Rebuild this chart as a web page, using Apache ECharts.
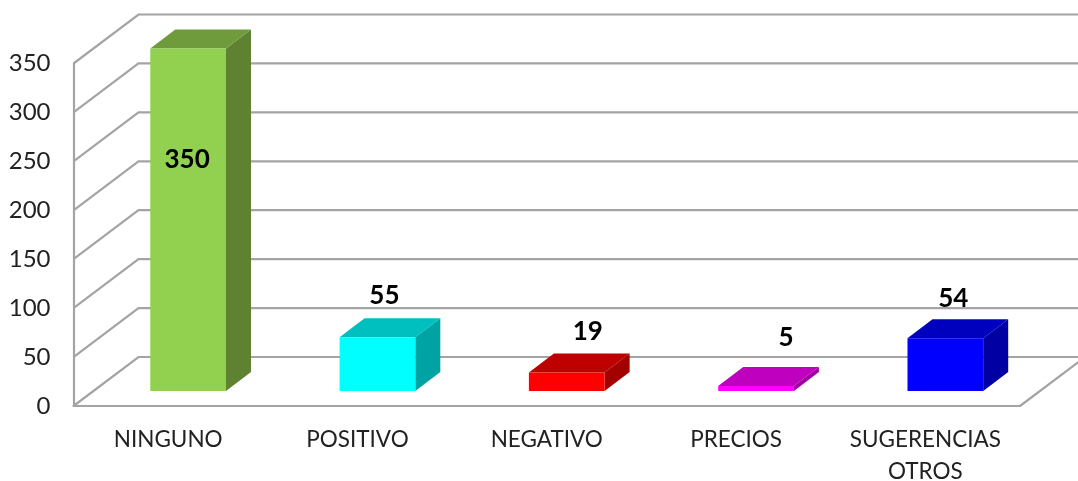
<!DOCTYPE html>
<html>
<head>
<meta charset="utf-8">
<style>html,body{margin:0;padding:0;background:#fff}#c{width:1078px;height:481px}</style>
<script src="https://cdn.jsdelivr.net/npm/echarts@6/dist/echarts.min.js"></script>
</head>
<body>
<div id="c"></div>
<script>
var categories = ['NINGUNO', 'POSITIVO', 'NEGATIVO', 'PRECIOS', 'SUGERENCIAS\nOTROS'];
var values = [350, 55, 19, 5, 54];
var yTicks = [0, 50, 100, 150, 200, 250, 300, 350];

var frontColors = ['#92D050', '#00FFFF', '#FF0000', '#FF00FF', '#0000FF'];
var topColors = ['#6F9B3C', '#00BFBF', '#BF0000', '#BF00BF', '#0000BF'];
var sideColors = ['#5E8231', '#00A3A3', '#A30000', '#A300A3', '#0000A3'];
var labelNudge = [[-1, 130], [7, -23], [21, -22], [30, -29], [8, -21]];

var WALL = [65, -49];
var BAR_PLANE = [20, -15];
var BAR_DEPTH = [25, -19];
var LINE = '#A4A4A4';

function renderFrame(params, api) {
  var cs = params.coordSys;
  var y = api.coord([0, api.value(0)])[1];
  var x0 = cs.x, x1 = cs.x + cs.width;
  var kids = [{
    type: 'polyline',
    shape: { points: [[x0, y], [x0 + WALL[0], y + WALL[1]], [x1 + WALL[0], y + WALL[1]]] },
    style: { fill: null, stroke: LINE, lineWidth: 2.2 }
  }];
  if (api.value(0) === 0) {
    kids.push({
      type: 'line',
      shape: { x1: x1, y1: y, x2: x1 + WALL[0], y2: y + WALL[1] },
      style: { stroke: LINE, lineWidth: 2.2 }
    });
  }
  return { type: 'group', children: kids };
}

function renderBar(params, api) {
  var i = api.value(0), v = api.value(1);
  var half = api.size([1, 0])[0] * 0.2;
  var base = api.coord([i, 0]);
  var top = api.coord([i, v]);
  var l = base[0] - half + BAR_PLANE[0], r = base[0] + half + BAR_PLANE[0];
  var b = base[1] + BAR_PLANE[1], t = top[1] + BAR_PLANE[1];
  var dx = BAR_DEPTH[0], dy = BAR_DEPTH[1];
  var nudge = labelNudge[i];
  return {
    type: 'group',
    children: [
      { type: 'polygon', shape: { points: [[r, t], [r + dx, t + dy], [r + dx, b + dy], [r, b]] }, style: { fill: sideColors[i] } },
      { type: 'polygon', shape: { points: [[l, t], [l + dx, t + dy], [r + dx, t + dy], [r, t]] }, style: { fill: topColors[i] } },
      { type: 'rect', shape: { x: l, y: t, width: r - l, height: b - t }, style: { fill: frontColors[i] } },
      { type: 'text', z2: 10, style: {
          text: String(v), x: base[0] + BAR_PLANE[0] + nudge[0], y: t + dy + nudge[1],
          align: 'center', verticalAlign: 'middle',
          font: 'bold 26px Lato', fill: '#000'
      } }
    ]
  };
}

var chart = echarts.init(document.getElementById('c'), null, { renderer: 'canvas' });
chart.setOption({
  animation: false,
  backgroundColor: '#fff',
  grid: { left: 73.5, right: 58, top: 63.5, bottom: 75, containLabel: false, outerBoundsMode: 'none' },
  xAxis: {
    type: 'category',
    data: categories,
    axisTick: { show: false },
    axisLine: { lineStyle: { color: LINE, width: 2.2 } },
    axisLabel: { color: '#222', fontFamily: 'Lato', fontSize: 22.5, lineHeight: 32, margin: 18, interval: 0 }
  },
  yAxis: {
    type: 'value',
    min: 0, max: 350, interval: 50,
    splitLine: { show: false },
    axisTick: { show: false },
    axisLine: { show: true, lineStyle: { color: LINE, width: 2.2 } },
    axisLabel: { color: '#222', fontFamily: 'Lato', fontSize: 24, margin: 23 }
  },
  series: [
    { type: 'custom', name: 'frame', coordinateSystem: 'cartesian2d', clip: false, silent: true, z: 1,
      renderItem: renderFrame, data: yTicks.map(function (t) { return [t]; }), encode: { y: 0 } },
    { type: 'custom', name: 'bars', coordinateSystem: 'cartesian2d', clip: false, silent: true, z: 2,
      renderItem: renderBar, data: values.map(function (v, i) { return [i, v]; }), encode: { x: 0, y: 1 } }
  ]
});
</script>
</body>
</html>
